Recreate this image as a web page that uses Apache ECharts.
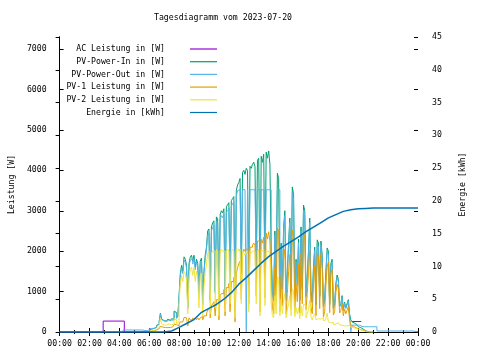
<!DOCTYPE html>
<html><head><meta charset="utf-8">
<script src="https://cdn.jsdelivr.net/npm/echarts@6/dist/echarts.min.js"></script>
<style>html,body{margin:0;padding:0;background:#fff}#c{width:480px;height:360px}</style>
</head><body><div id="c"></div>
<script>
const titleText = 'Tagesdiagramm vom 2023-07-20';
const seriesNames = ['AC Leistung in [W]','PV-Power-In in [W]','PV-Power-Out in [W]','PV-1 Leistung in [W]','PV-2 Leistung in [W]','Energie in [kWh]'];
const xTickLabels = ['00:00','02:00','04:00','06:00','08:00','10:00','12:00','14:00','16:00','18:00','20:00','22:00','00:00'];
const leftAxisName = 'Leistung [W]';
const rightAxisName = 'Energie [kWh]';

// 5-minute samples from 06:00 to 21:00
const dayStart = '06:00';
const dayStepMin = 5;
const pvIn = [
 60,70,80,90,100,120,170,190,260,470,320,280,
 290,270,300,320,280,300,330,310,520,480,350,400,
 900,1450,1650,1500,1860,1800,1650,600,1700,1850,1900,1750,
 1900,1600,1800,1700,900,1750,1830,700,1500,1900,2100,2500,
 2550,800,2600,2700,2750,1000,2850,2800,700,2900,3000,2950,
 3050,900,3100,3150,3200,1200,3250,3300,3350,600,3500,3640,
 3700,3800,1500,3950,4000,3900,4050,4000,1200,4100,4050,4150,
 4200,4100,1600,4250,4300,900,4350,4200,4400,1500,4450,4300,
 4480,4150,2000,1000,800,2500,1200,3930,3800,900,2200,1100,
 2600,3000,800,1500,2200,2820,1000,3590,3400,900,1800,1200,
 2300,800,2600,1100,3140,3000,900,1400,2000,2820,1000,750,
 1600,2100,700,2280,2200,900,2250,1900,650,800,1500,2080,
 2000,700,1700,1800,600,700,1200,1410,1300,650,700,900,
 550,740,600,700,800,450,300,250,220,200,180,150,
 130,110,90,70,50,30,20,10,0,0,0,0,
 0];
const pvOut = [
 80,90,90,90,95,115,165,185,250,450,305,270,
 280,260,290,305,270,290,315,300,500,460,335,385,
 860,1390,1580,1440,1780,1730,1580,580,1630,1780,1820,1680,
 1820,1540,1730,1630,860,1680,1760,670,1440,1820,2020,2400,
 2450,770,2500,2590,2640,960,2740,2690,670,2780,2880,2830,
 2930,860,2980,3020,3070,1150,3120,3170,3220,580,3360,3500,
 3520,3520,1440,3520,3520,3520,0,3520,1150,3520,3520,3520,
 3520,3520,1540,3520,3520,860,3520,3520,3520,1440,3520,3520,
 3520,3520,1920,960,770,2400,1150,3520,3520,860,2110,1060,
 2500,2880,770,1440,2110,2710,960,3450,3260,860,1730,1150,
 2210,770,2500,1060,3010,2880,860,1340,1920,2710,960,720,
 1540,2020,670,2190,2110,860,2160,1820,620,770,1440,2000,
 1920,670,1630,1730,580,670,1150,1350,1250,620,670,860,
 530,710,580,670,770,430,0,170,170,170,170,170,
 170,160,140,130,130,130,130,130,130,130,130,130,
 130];
const pv1 = [
 20,25,30,35,40,50,70,80,100,140,120,110,
 110,100,110,120,110,120,130,120,190,180,140,150,
 200,250,250,250,360,350,350,150,350,300,300,350,
 300,350,300,350,300,350,380,300,400,400,450,550,
 550,350,650,700,750,400,800,800,300,900,950,950,
 1050,400,1100,1100,1200,500,1250,1250,1350,250,1450,1590,
 1700,1750,800,1950,2050,2000,2050,2050,700,2100,2100,2150,
 2200,2150,900,2250,2250,500,2300,2200,2350,850,2450,2300,
 2480,2250,1300,600,450,1600,750,2570,2500,500,1400,650,
 1800,2050,450,950,1500,1920,600,2520,2400,520,1200,750,
 1700,470,1950,700,2450,2350,550,950,1450,2030,620,450,
 1200,1650,400,1950,1870,580,1930,1550,370,500,1150,1610,
 1750,480,1450,1560,420,500,980,1180,1080,470,530,720,
 400,570,450,540,630,310,180,140,120,110,100,80,
 70,60,50,40,30,20,20,10,0,0,0,0,
 0];
const pv2 = [
 20,25,30,35,50,70,100,110,160,330,200,170,
 180,170,190,200,170,180,200,190,330,300,210,250,
 700,1200,1400,1250,1500,1450,1300,450,1350,1550,1600,1400,
 1600,1250,1500,1350,600,1400,1450,400,1100,1500,1650,1950,
 2000,450,1950,2000,2000,600,2050,2000,400,2000,2050,2000,
 2000,500,2000,2050,2000,700,2000,2050,2000,350,2050,2050,
 2000,2050,700,2000,1950,1900,2000,1950,500,2000,1950,2000,
 2000,1950,700,2000,2050,400,2050,2000,2050,650,2000,2000,
 2000,1900,700,400,350,900,450,1360,1300,400,800,450,
 800,950,350,550,700,900,400,1070,1000,380,600,450,
 600,330,650,400,690,650,350,450,550,790,380,300,
 400,450,300,330,330,320,320,350,280,300,350,470,
 250,220,250,240,180,200,220,230,220,180,170,180,
 150,170,150,160,170,140,120,110,100,90,80,70,
 60,50,40,30,20,10,0,0,0,0,0,0,
 0];

// night parts of PV-Power-Out
const pvOutMorningTimes = ['00:00','04:15','05:30'];
const pvOutMorningValues = [0,50,25];
const pvOutEveningTimes = ['21:15','23:40','24:00'];
const pvOutEveningValues = [25,0,0];

// AC power (visible parts)
const acTimes = ['00:00','02:55','04:20','06:00','19:35','20:12','20:13','23:45','24:00'];
const acValues = [0,270,0,null,260,260,null,10,10];

// Energy (kWh)
const energyTimes = ['00:00','07:00','07:30','08:00','08:30','09:00','09:30','10:00','10:30','11:00','11:30','12:00','12:30','13:00','13:30','14:00','14:30','15:00','15:30','16:00','16:30','17:00','17:30','18:00','18:30','19:00','19:30','20:00','20:30','21:00','24:00'];
const energyValues = [0,0,0.15,0.7,1.3,1.9,3.0,3.6,4.2,5.0,6.0,7.3,8.3,9.4,10.5,11.5,12.3,13.1,13.8,14.5,15.3,16.0,16.7,17.4,17.9,18.4,18.65,18.8,18.85,18.9,18.9];

const toMin = s => { const p = s.split(':'); return (+p[0]) * 60 + (+p[1]); };
const pairs = (times, vals) => times.map((t, i) => [toMin(t), vals[i]]);
const dayPairs = vals => vals.map((v, i) => [toMin(dayStart) + i * dayStepMin, v]);

const FONT = 'DejaVu Sans Mono';
const FS = 8.2;
const txt = { fontFamily: FONT, fontSize: FS, color: '#000' };
const colors = ['#9400d3','#009e73','#56b4e9','#e69f00','#f0e442','#0072b2'];

const chart = echarts.init(document.getElementById('c'), null, { renderer: 'canvas' });
const lineS = (name, data, color, yIdx, step, w) => ({
  name, type: 'line', data, xAxisIndex: 0, yAxisIndex: yIdx,
  step: step ? 'end' : false, showSymbol: false, symbol: 'none',
  lineStyle: { color, width: w || 1 }, itemStyle: { color },
  silent: true, animation: false, emphasis: { disabled: true }
});

chart.setOption({
  animation: false,
  backgroundColor: '#fff',
  title: { text: titleText, left: 154, top: 13, padding: 0, textStyle: Object.assign({ fontWeight: 'normal', lineHeight: 10 }, txt) },
  grid: { left: 58, right: 62, top: 37, bottom: 28 },
  legend: {
    orient: 'vertical', right: 263, top: 44, align: 'right', padding: 0,
    itemWidth: 27, itemHeight: 1.2, itemGap: 2.7, icon: 'rect',
    data: seriesNames,
    textStyle: Object.assign({ lineHeight: 10, padding: [0, 20, 0, 0] }, txt)
  },
  xAxis: [{
    type: 'value', min: 0, max: 1440, interval: 120,
    axisLine: { lineStyle: { color: '#000', width: 1 } },
    axisTick: { inside: true, length: 4, lineStyle: { color: '#000' } },
    minorTick: { show: true, splitNumber: 2, length: 2, lineStyle: { color: '#000' } },
    splitLine: { show: false },
    axisLabel: Object.assign({ margin: 8, showMinLabel: true, showMaxLabel: true,
      formatter: v => xTickLabels[Math.round(v / 120)] }, txt)
  }, {
    type: 'value', position: 'top', min: 0, max: 1440, interval: 120,
    axisLine: { lineStyle: { color: '#000', width: 1 } },
    axisTick: { inside: true, length: 4, lineStyle: { color: '#000' } },
    minorTick: { show: true, splitNumber: 2, length: 2, lineStyle: { color: '#000' } },
    splitLine: { show: false }, axisLabel: { show: false }
  }],
  yAxis: [{
    type: 'value', min: 0, max: 7300, interval: 1000, position: 'left',
    name: leftAxisName, nameLocation: 'middle', nameGap: 43, nameRotate: 90,
    nameTextStyle: txt,
    axisLine: { show: true, lineStyle: { color: '#000', width: 1 } },
    axisTick: { show: true, inside: true, length: 4, lineStyle: { color: '#000' } },
    splitLine: { show: false },
    axisLabel: Object.assign({ margin: 13, showMaxLabel: false,
      formatter: v => (v % 1000 === 0 ? String(v) : '') }, txt)
  }, {
    type: 'value', min: 0, max: 45, interval: 5, position: 'right',
    name: rightAxisName, nameLocation: 'middle', nameGap: 41, nameRotate: 90,
    nameTextStyle: txt,
    axisLine: { show: true, lineStyle: { color: '#000', width: 1 } },
    axisTick: { show: true, inside: true, length: 4, lineStyle: { color: '#000' } },
    splitLine: { show: false },
    axisLabel: Object.assign({ margin: 14 }, txt)
  }, {
    type: 'value', min: 0, max: 7300, interval: 1000, position: 'right',
    axisLine: { show: false },
    axisTick: { show: true, inside: true, length: 4, lineStyle: { color: '#000' } },
    splitLine: { show: false }, axisLabel: { show: false }
  }],
  series: [
    lineS(seriesNames[0], pairs(acTimes, acValues), colors[0], 0, true),
    lineS(seriesNames[1], dayPairs(pvIn), colors[1], 0, true),
    lineS(seriesNames[2], pairs(pvOutMorningTimes, pvOutMorningValues).concat(dayPairs(pvOut), pairs(pvOutEveningTimes, pvOutEveningValues)), colors[2], 0, true),
    lineS(seriesNames[3], dayPairs(pv1), colors[3], 0, true),
    lineS(seriesNames[4], dayPairs(pv2), colors[4], 0, true),
    lineS(seriesNames[5], pairs(energyTimes, energyValues), colors[5], 1, false, 1.5)
  ]
});
</script>
</body></html>
